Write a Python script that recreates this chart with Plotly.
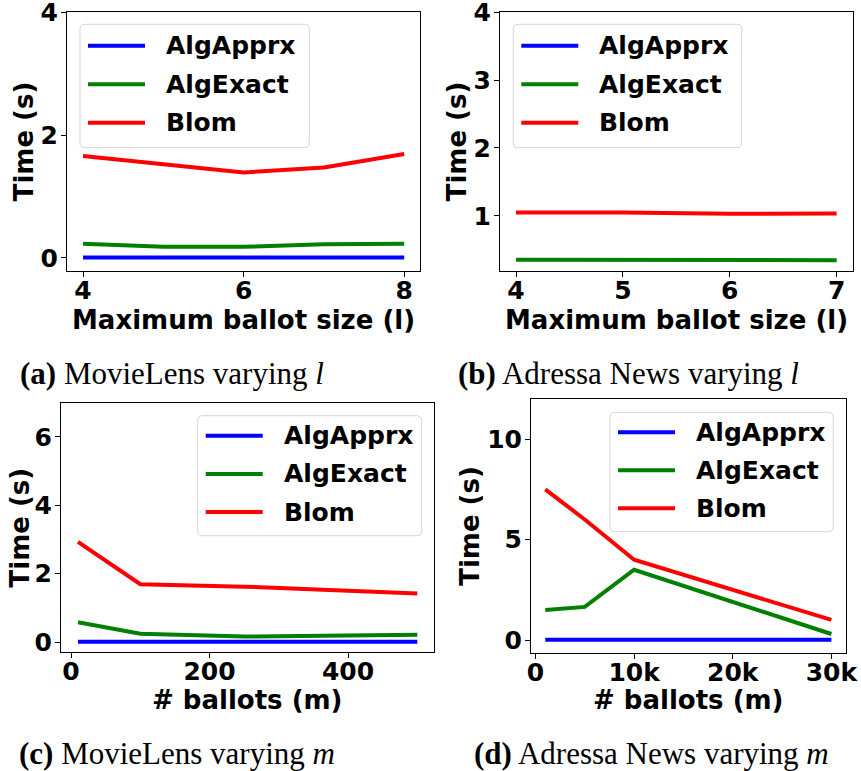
import plotly.graph_objects as go

# ---- data -------------------------------------------------------------
series_names = ["AlgApprx", "AlgExact", "Blom"]
series_colors = ["#0000ff", "#008000", "#ff0000"]

# (a) MovieLens, varying maximum ballot size l
a_l = [4, 5, 6, 7, 8]
a_apprx = [0.005, 0.005, 0.005, 0.005, 0.005]
a_exact = [0.23, 0.18, 0.18, 0.22, 0.23]
a_blom = [1.66, 1.53, 1.39, 1.47, 1.69]

# (b) Adressa News, varying maximum ballot size l
b_l = [4, 5, 6, 7]
b_apprx = [0.005, 0.005, 0.005, 0.005]
b_exact = [0.35, 0.35, 0.348, 0.345]
b_blom = [1.05, 1.05, 1.03, 1.035]

# (c) MovieLens, varying number of ballots m
c_m = [10, 100, 250, 500]
c_apprx = [0.005, 0.005, 0.005, 0.005]
c_exact = [0.58, 0.24, 0.16, 0.21]
c_blom = [2.93, 1.69, 1.62, 1.42]

# (d) Adressa News, varying number of ballots m
d_m = [1000, 5000, 10000, 30000]
d_apprx = [0.01, 0.01, 0.01, 0.01]
d_exact = [1.5, 1.65, 3.5, 0.3]
d_blom = [7.5, 6.0, 4.0, 1.0]

d_tickvals = [0, 10000, 20000, 30000]
d_ticktext = ["0", "10k", "20k", "30k"]

captions = [
    "<b>(a)</b> MovieLens varying <i>l</i>",
    "<b>(b)</b> Adressa News varying <i>l</i>",
    "<b>(c)</b> MovieLens varying <i>m</i>",
    "<b>(d)</b> Adressa News varying <i>m</i>",
]

# ---- layout helpers ---------------------------------------------------
W, H = 861, 771


def fx(px):
    return px / W


def fy(py):
    return 1 - py / H


SANS = dict(family="DejaVu Sans", size=25, color="black", weight="bold")
SANS_TITLE = dict(SANS, size=26)
SERIF = dict(family="Liberation Serif", size=31, color="black")

fig = go.Figure()

panels = [
    (a_l, [a_apprx, a_exact, a_blom], "x", "y"),
    (b_l, [b_apprx, b_exact, b_blom], "x2", "y2"),
    (c_m, [c_apprx, c_exact, c_blom], "x3", "y3"),
    (d_m, [d_apprx, d_exact, d_blom], "x4", "y4"),
]
for xs, ys_list, xa, ya in panels:
    for name, color, ys in zip(series_names, series_colors, ys_list):
        fig.add_trace(go.Scatter(
            x=xs, y=ys, mode="lines", name=name, showlegend=False,
            line=dict(color=color, width=4), xaxis=xa, yaxis=ya,
        ))

# plot-area boxes in pixels: left, top, right, bottom
boxes = [
    (67, 12, 420.3, 270.7),
    (500, 12, 852.7, 270.7),
    (61, 402.7, 434.3, 652.3),
    (531, 399, 845.7, 652.7),
]

axis_common = dict(
    showline=True, linecolor="black", linewidth=1, mirror=True,
    ticks="outside", ticklen=5, tickwidth=1, tickcolor="black",
    showgrid=False, zeroline=False, tickfont=SANS,
    ticklabeloverflow="allow", automargin=False,
)

x_ranges = [[3.8, 8.2], [3.85, 7.15], [-14.5, 524.5], [-450, 31450]]
y_ranges = [[-0.21, 4.005], [0.19, 4.005], [-0.3, 7.0], [-0.63, 12.0]]
x_ticks = [[4, 6, 8], [4, 5, 6, 7], [0, 200, 400], d_tickvals]
x_ticktext = [None, None, None, d_ticktext]
y_ticks = [[0, 2, 4], [1, 2, 3, 4], [0, 2, 4, 6], [0, 5, 10]]

layout = {}
for i, (l, t, r, b) in enumerate(boxes):
    sfx = "" if i == 0 else str(i + 1)
    xa = dict(axis_common, domain=[fx(l), fx(r)], range=x_ranges[i],
              tickvals=x_ticks[i], anchor="y" + sfx, ticklabelstandoff=-8)
    if x_ticktext[i]:
        xa["ticktext"] = x_ticktext[i]
    ya = dict(axis_common, domain=[fy(b), fy(t)], range=y_ranges[i],
              tickvals=y_ticks[i], anchor="x" + sfx, ticklabelstandoff=-2)
    layout["xaxis" + sfx] = xa
    layout["yaxis" + sfx] = ya

fig.update_layout(
    width=W, height=H, margin=dict(l=0, r=0, t=0, b=0, autoexpand=False),
    paper_bgcolor="white", plot_bgcolor="white", **layout,
)

annotations = []
shapes = []

# axis titles
x_titles = ["Maximum ballot size (l)", "Maximum ballot size (l)",
            "# ballots (m)", "# ballots (m)"]
x_title_y = [320, 320, 700, 700]
y_title_x = [24, 457, 19, 470]
for i, (l, t, r, b) in enumerate(boxes):
    annotations.append(dict(
        text=x_titles[i], x=fx((l + r) / 2), y=fy(x_title_y[i]),
        xref="paper", yref="paper", showarrow=False,
        xanchor="center", yanchor="middle", font=SANS_TITLE,
    ))
    annotations.append(dict(
        text="Time (s)", x=fx(y_title_x[i]), y=fy((t + b) / 2),
        xref="paper", yref="paper", showarrow=False, textangle=-90,
        xanchor="center", yanchor="middle", font=SANS_TITLE,
    ))

# sub-figure captions
cap_pos = [(172, 373), (628.5, 373), (176.5, 753), (651.5, 753)]
for text, (cx, cy) in zip(captions, cap_pos):
    annotations.append(dict(
        text=text, x=fx(cx), y=fy(cy), xref="paper", yref="paper",
        showarrow=False, xanchor="center", yanchor="middle", font=SERIF,
    ))

# legend boxes: left, top, right, bottom, first row y, row step
legend_boxes = [
    (80, 24.3, 309.3, 147.7, 45.7, 38.5),
    (513.3, 24.3, 741.7, 147.7, 45.7, 38.5),
    (197.7, 415.7, 421.7, 535.7, 435.7, 38.2),
    (610, 412.3, 833.3, 531.7, 432.3, 38.0),
]


def rounded_rect(l, t, r, b, rad):
    return (f"M{fx(l + rad)},{fy(t)} L{fx(r - rad)},{fy(t)} "
            f"Q{fx(r)},{fy(t)} {fx(r)},{fy(t + rad)} "
            f"L{fx(r)},{fy(b - rad)} Q{fx(r)},{fy(b)} {fx(r - rad)},{fy(b)} "
            f"L{fx(l + rad)},{fy(b)} Q{fx(l)},{fy(b)} {fx(l)},{fy(b - rad)} "
            f"L{fx(l)},{fy(t + rad)} Q{fx(l)},{fy(t)} {fx(l + rad)},{fy(t)} Z")


for l, t, r, b, y0, step in legend_boxes:
    shapes.append(dict(
        type="path", path=rounded_rect(l, t, r, b, 5),
        xref="paper", yref="paper",
        fillcolor="rgba(255,255,255,0.8)",
        line=dict(color="#d4d4d4", width=1),
    ))
    for k, (name, color) in enumerate(zip(series_names, series_colors)):
        yy = y0 + k * step
        shapes.append(dict(
            type="line", xref="paper", yref="paper",
            x0=fx(l + 8), x1=fx(l + 65), y0=fy(yy), y1=fy(yy),
            line=dict(color=color, width=4),
        ))
        annotations.append(dict(
            text=name, x=fx(l + 84), y=fy(yy), xref="paper", yref="paper",
            showarrow=False, xanchor="left", yanchor="middle", font=SANS,
        ))

fig.update_layout(annotations=annotations, shapes=shapes)
fig.write_html("out.html")
